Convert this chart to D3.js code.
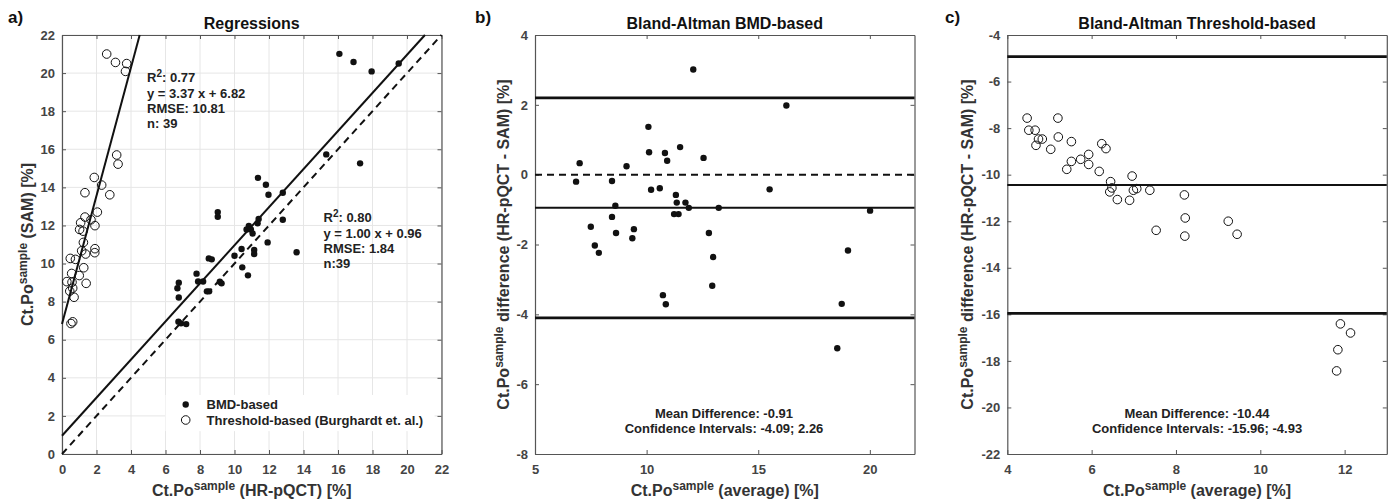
<!DOCTYPE html>
<html lang="en">
<head>
<meta charset="UTF-8">
<title>Regressions and Bland-Altman</title>
<script src="https://cdnjs.cloudflare.com/ajax/libs/d3/7.8.5/d3.min.js"></script>
<style>
    body { margin: 0; padding: 0; background: #fff; font-family: "Liberation Sans", Arial, sans-serif; }
    svg text { font-family: "Liberation Sans", Arial, sans-serif; font-weight: bold; }
    .tick text { fill: #444; font-size: 13px; }
    .tick line, .domain { stroke: #555; }
</style>
</head>
<body>
<div id="chart"></div>
<script>
// panel a) regressions: [HR-pQCT, SAM]
const bmdPoints = [
    [16.08, 21.01], [16.9, 20.58], [17.95, 20.09], [19.52, 20.5], [15.32, 15.73], [17.28, 15.26],
    [11.36, 14.5], [11.82, 14.14], [11.97, 13.61], [12.8, 13.72], [9.03, 12.7], [9.03, 12.46],
    [11.4, 12.34], [11.34, 12.11], [12.8, 12.3], [10.83, 11.97], [10.7, 11.79], [10.95, 11.79],
    [11.05, 11.58], [11.92, 11.11], [13.6, 10.59], [10.41, 10.76], [11.14, 10.71], [11.14, 10.5],
    [10.0, 10.41], [8.51, 10.27], [8.68, 10.22], [10.45, 9.8], [10.78, 9.38], [7.8, 9.47],
    [7.89, 9.06], [8.18, 9.06], [9.15, 9.05], [9.25, 8.96], [8.4, 8.54], [8.53, 8.54],
    [6.69, 8.7], [6.77, 8.99], [6.77, 8.22], [6.75, 6.95], [6.9, 6.86], [7.2, 6.82]
];
const thresholdPoints = [
    [2.59, 21.0], [3.1, 20.56], [3.75, 20.5], [3.68, 20.09], [3.17, 15.7], [3.25, 15.22],
    [1.87, 14.52], [2.3, 14.12], [1.33, 13.72], [2.77, 13.61], [2.05, 12.7], [1.33, 12.44],
    [1.68, 12.3], [1.08, 12.14], [1.91, 11.99], [1.02, 11.79], [1.22, 11.7], [1.24, 11.11],
    [1.14, 10.67], [1.91, 10.78], [1.9, 10.57], [1.37, 10.5], [0.48, 10.27], [0.78, 10.22],
    [1.26, 9.78], [0.56, 9.48], [1.0, 9.37], [0.28, 9.05], [0.58, 9.02], [1.4, 8.96],
    [0.62, 8.71], [0.45, 8.55], [0.7, 8.23], [0.52, 6.85], [0.62, 6.94]
];
const fitBmd = { slope: 1.00, intercept: 0.96 };
const fitThreshold = { slope: 3.37, intercept: 6.82 };
const regTicks = d3.range(0, 23, 2);

// panel b) Bland-Altman BMD-based: [average, difference]
const baBmdPoints = [
    [12.09, 3.01], [16.26, 1.98], [10.08, 1.37], [10.11, 0.64], [10.82, 0.62], [10.92, 0.4],
    [11.5, 0.79], [12.55, 0.48], [7.0, 0.33], [9.1, 0.24], [6.84, -0.2], [8.45, -0.18],
    [10.2, -0.43], [10.59, -0.39], [15.51, -0.42], [11.31, -0.58], [11.35, -0.8], [11.74, -0.8],
    [11.89, -0.95], [13.23, -0.95], [8.6, -0.89], [8.45, -1.21], [11.23, -1.13], [11.43, -1.13],
    [20.01, -1.03], [7.5, -1.49], [9.43, -1.56], [8.63, -1.67], [12.79, -1.67], [9.36, -1.82],
    [7.68, -2.03], [7.86, -2.24], [12.98, -2.36], [12.94, -3.18], [10.73, -3.45], [10.86, -3.71],
    [19.02, -2.17], [18.74, -3.7], [18.54, -4.97]
];
const baBmdLimits = [2.2, -0.95, -4.1];
const baBmdText = ["Mean Difference: -0.91", "Confidence Intervals: -4.09; 2.26"];
const baBmdXTicks = [5, 10, 15, 20];
const baBmdYTicks = [-8, -6, -4, -2, 0, 2, 4];

// panel c) Bland-Altman threshold-based
const baThrPoints = [
    [4.47, -7.57], [5.2, -7.57], [4.51, -8.09], [4.66, -8.09], [4.74, -8.47], [4.83, -8.47],
    [4.68, -8.74], [5.21, -8.38], [5.03, -8.91], [5.52, -8.58], [6.24, -8.67], [6.34, -8.88],
    [5.93, -9.13], [5.74, -9.34], [5.52, -9.43], [5.93, -9.56], [5.41, -9.77], [6.18, -9.86],
    [6.96, -10.06], [6.45, -10.3], [6.48, -10.57], [6.43, -10.74], [6.99, -10.67], [7.07, -10.6],
    [7.38, -10.67], [6.61, -11.07], [6.9, -11.1], [8.2, -10.87], [8.22, -11.86], [7.53, -12.39],
    [8.21, -12.64], [9.24, -12.0], [9.45, -12.56], [11.9, -16.41], [12.14, -16.8], [11.84, -17.52],
    [11.81, -18.43]
];
const baThrLimits = [-4.93, -10.44, -15.96];
const baThrText = ["Mean Difference: -10.44", "Confidence Intervals: -15.96; -4.93"];
const baThrXTicks = [4, 6, 8, 10, 12];
const baThrYTicks = d3.range(-22, -3, 2);

const W = 1394, H = 501;
const plotTop = 35, plotBottom = 454, plotW = 379.5;
const plain = d => String(d); // hyphen minus like the original

const svg = d3.select('#chart').append('svg')
    .attr('width', W)
    .attr('height', H);

// label with superscript "sample"
function ctpoLabel(sel, rest) {
    sel.append('tspan').text('Ct.Po');
    sel.append('tspan').attr('dy', -6).attr('font-size', 12).text('sample');
    sel.append('tspan').attr('dy', 6).text(rest);
}

function makePanel(o) {
    const x = d3.scaleLinear().domain(o.xDomain).range([o.left, o.left + plotW]);
    const y = d3.scaleLinear().domain(o.yDomain).range([plotBottom, plotTop]);
    const g = svg.append('g');

    if (o.grid) {
        g.append('g')
            .selectAll('line').data(o.xTicks).join('line')
            .attr('x1', d => x(d)).attr('x2', d => x(d))
            .attr('y1', plotTop).attr('y2', plotBottom)
            .attr('stroke', '#e6e6e6');
        g.append('g')
            .selectAll('line').data(o.yTicks).join('line')
            .attr('x1', x.range()[0]).attr('x2', x.range()[1])
            .attr('y1', d => y(d)).attr('y2', d => y(d))
            .attr('stroke', '#e6e6e6');
    }

    // axes with inward ticks, box on
    g.append('g').attr('transform', `translate(0,${plotBottom})`)
        .call(d3.axisBottom(x).tickValues(o.xTicks).tickFormat(plain).tickSizeInner(-4).tickSizeOuter(0).tickPadding(8))
        .call(a => a.selectAll('text').attr('dy', '0.9em'));
    g.append('g').attr('transform', `translate(0,${plotTop})`)
        .call(d3.axisTop(x).tickValues(o.xTicks).tickSizeInner(-4).tickSizeOuter(0).tickFormat(''));
    g.append('g').attr('transform', `translate(${o.left},0)`)
        .call(d3.axisLeft(y).tickValues(o.yTicks).tickFormat(plain).tickSizeInner(-4).tickSizeOuter(0).tickPadding(7));
    g.append('g').attr('transform', `translate(${o.left + plotW},0)`)
        .call(d3.axisRight(y).tickValues(o.yTicks).tickSizeInner(-4).tickSizeOuter(0).tickFormat(''));
    g.selectAll('.domain').attr('stroke', '#555').attr('stroke-width', 1.2);

    // title and panel letter
    g.append('text')
        .attr('x', o.left + plotW / 2).attr('y', 29)
        .attr('text-anchor', 'middle').attr('font-size', 16).attr('fill', '#111')
        .text(o.title);
    g.append('text')
        .attr('x', o.letterX).attr('y', 23)
        .attr('font-size', 17).attr('fill', '#111')
        .text(o.letter);

    // axis labels
    g.append('text')
        .attr('x', o.left + plotW / 2).attr('y', 496)
        .attr('text-anchor', 'middle').attr('font-size', 16).attr('fill', '#333')
        .call(ctpoLabel, o.xLabel);
    g.append('text')
        .attr('transform', `translate(${o.yLabelX},${(plotTop + plotBottom) / 2}) rotate(-90)`)
        .attr('text-anchor', 'middle').attr('font-size', 16).attr('fill', '#333')
        .call(ctpoLabel, o.yLabel);

    return { g, x, y };
}

// ---- panel a
const a = makePanel({
    left: 62, xDomain: [0, 22], yDomain: [0, 22], xTicks: regTicks, yTicks: regTicks, grid: true,
    title: 'Regressions', letter: 'a)', letterX: 8, yLabelX: 33,
    xLabel: ' (HR-pQCT) [%]', yLabel: ' (SAM) [%]'
});
// identity line
a.g.append('line')
    .attr('x1', a.x(0)).attr('y1', a.y(0)).attr('x2', a.x(22)).attr('y2', a.y(22))
    .attr('stroke', '#111').attr('stroke-width', 2).attr('stroke-dasharray', '7,5');
[fitBmd, fitThreshold].forEach(f => {
    const xEnd = Math.min(22, (22 - f.intercept) / f.slope);
    a.g.append('line')
        .attr('x1', a.x(0)).attr('y1', a.y(f.intercept))
        .attr('x2', a.x(xEnd)).attr('y2', a.y(f.slope * xEnd + f.intercept))
        .attr('stroke', '#111').attr('stroke-width', 2);
});
a.g.append('g').selectAll('circle').data(bmdPoints).join('circle')
    .attr('cx', d => a.x(d[0])).attr('cy', d => a.y(d[1])).attr('r', 3.2)
    .attr('fill', '#111');
a.g.append('g').selectAll('circle').data(thresholdPoints).join('circle')
    .attr('cx', d => a.x(d[0])).attr('cy', d => a.y(d[1])).attr('r', 4.3)
    .attr('fill', 'none').attr('stroke', '#111').attr('stroke-width', 1);

function statBlock(g, px, py, lines) {
    const t = g.append('text').attr('font-size', 13).attr('fill', '#222');
    lines.forEach((l, i) => {
        const ts = t.append('tspan').attr('x', px).attr('y', py + i * 15.3 + 4.5);
        if (l.startsWith('R2')) {
            ts.append('tspan').text('R');
            ts.append('tspan').attr('dy', -5).attr('font-size', 10).text('2');
            ts.append('tspan').attr('dy', 5).text(l.slice(2));
        } else {
            ts.text(l);
        }
    });
}
statBlock(a.g, a.x(4.93), a.y(19.75), ['R2: 0.77', 'y = 3.37 x + 6.82', 'RMSE: 10.81', 'n: 39']);
statBlock(a.g, a.x(15.16), a.y(12.4), ['R2: 0.80', 'y = 1.00 x + 0.96', 'RMSE: 1.84', 'n:39']);

// legend
const lg = a.g.append('g');
lg.append('rect').attr('x', a.x(6)).attr('y', a.y(3.1)).attr('width', a.x(21.6) - a.x(6)).attr('height', a.y(1.2) - a.y(3.1))
    .attr('fill', '#fff');
const legendItems = [{ label: 'BMD-based', filled: true }, { label: 'Threshold-based (Burghardt et. al.)', filled: false }];
legendItems.forEach((it, i) => {
    const cy = 404.5 + i * 15.5;
    lg.append('circle').attr('cx', 185.7).attr('cy', cy).attr('r', it.filled ? 3.2 : 4.3)
        .attr('fill', it.filled ? '#111' : 'none').attr('stroke', it.filled ? 'none' : '#111');
    lg.append('text').attr('x', 206.5).attr('y', cy + 4.6).attr('font-size', 13).attr('fill', '#222').text(it.label);
});

// ---- Bland-Altman panels
function baPanel(opts, points, limits, texts, filled, dashedZero) {
    const p = makePanel(opts);
    if (dashedZero) {
        p.g.append('line')
            .attr('x1', p.x.range()[0]).attr('x2', p.x.range()[1]).attr('y1', p.y(0)).attr('y2', p.y(0))
            .attr('stroke', '#111').attr('stroke-width', 2).attr('stroke-dasharray', '7,5');
    }
    p.g.append('g').selectAll('line').data(limits).join('line')
        .attr('x1', p.x.range()[0]).attr('x2', p.x.range()[1])
        .attr('y1', d => p.y(d)).attr('y2', d => p.y(d))
        .attr('stroke', '#111').attr('stroke-width', (d, i) => i === 1 ? 2 : 2.6);
    const c = p.g.append('g').selectAll('circle').data(points).join('circle')
        .attr('cx', d => p.x(d[0])).attr('cy', d => p.y(d[1]));
    if (filled) c.attr('r', 3.2).attr('fill', '#111');
    else c.attr('r', 4.3).attr('fill', 'none').attr('stroke', '#111');
    p.g.append('text').attr('text-anchor', 'middle').attr('font-size', 13).attr('fill', '#222')
        .selectAll('tspan').data(texts).join('tspan')
        .attr('x', opts.textX).attr('y', (d, i) => 417.5 + i * 15)
        .text(d => d);
    return p;
}

baPanel({
    left: 535, xDomain: [5, 22], yDomain: [-8, 4], xTicks: baBmdXTicks, yTicks: baBmdYTicks,
    title: 'Bland-Altman BMD-based', letter: 'b)', letterX: 475, yLabelX: 509, textX: 724,
    xLabel: ' (average) [%]', yLabel: ' difference (HR-pQCT - SAM) [%]'
}, baBmdPoints, baBmdLimits, baBmdText, true, true);

baPanel({
    left: 1007.3, xDomain: [4, 13], yDomain: [-22, -4], xTicks: baThrXTicks, yTicks: baThrYTicks,
    title: 'Bland-Altman Threshold-based', letter: 'c)', letterX: 945, yLabelX: 973, textX: 1197,
    xLabel: ' (average) [%]', yLabel: ' difference (HR-pQCT - SAM) [%]'
}, baThrPoints, baThrLimits, baThrText, false, false);
</script>
</body>
</html>
